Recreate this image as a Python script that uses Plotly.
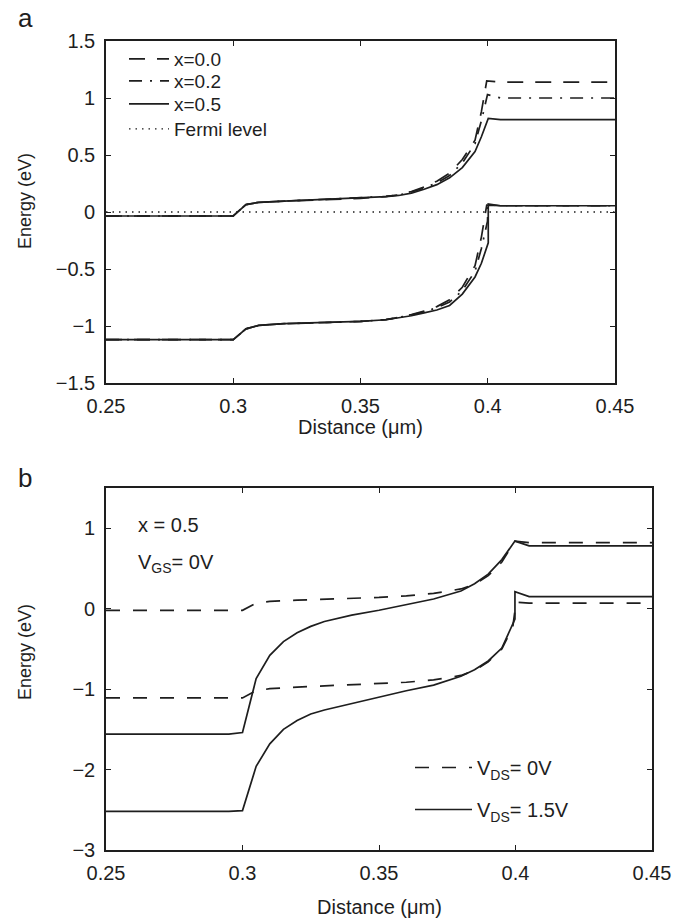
import plotly.graph_objects as go

# ---------------- data : panel a ----------------
# conduction / valence band edges for three Al fractions
xa_c_00 = [0.25, 0.30, 0.305, 0.31, 0.32, 0.33, 0.34, 0.35, 0.36, 0.365, 0.37, 0.375, 0.38, 0.385, 0.39, 0.395, 0.3975, 0.3996, 0.405, 0.45]
ea_c_00 = [-0.035, -0.035, 0.065, 0.085, 0.095, 0.105, 0.11, 0.12, 0.137, 0.15, 0.18, 0.22, 0.27, 0.34, 0.46, 0.63, 0.88, 1.15, 1.14, 1.14]
xa_v_00 = [0.25, 0.30, 0.305, 0.31, 0.32, 0.33, 0.34, 0.35, 0.36, 0.365, 0.37, 0.375, 0.38, 0.385, 0.39, 0.395, 0.3975, 0.3996, 0.405, 0.45]
ea_v_00 = [-1.12, -1.12, -1.025, -0.995, -0.98, -0.975, -0.97, -0.96, -0.943, -0.925, -0.90, -0.87, -0.83, -0.77, -0.66, -0.47, -0.22, 0.06, 0.055, 0.055]

xa_c_02 = [0.25, 0.30, 0.305, 0.31, 0.32, 0.33, 0.34, 0.35, 0.36, 0.365, 0.37, 0.375, 0.38, 0.385, 0.39, 0.395, 0.3975, 0.3999, 0.405, 0.45]
ea_c_02 = [-0.035, -0.035, 0.065, 0.085, 0.095, 0.105, 0.11, 0.12, 0.136, 0.148, 0.175, 0.21, 0.255, 0.32, 0.43, 0.60, 0.80, 1.03, 1.0, 1.0]
xa_v_02 = [0.25, 0.30, 0.305, 0.31, 0.32, 0.33, 0.34, 0.35, 0.36, 0.365, 0.37, 0.375, 0.38, 0.385, 0.39, 0.395, 0.3975, 0.3999, 0.4001, 0.405, 0.45]
ea_v_02 = [-1.12, -1.12, -1.025, -0.995, -0.98, -0.975, -0.97, -0.96, -0.944, -0.927, -0.905, -0.875, -0.84, -0.79, -0.69, -0.52, -0.32, -0.08, 0.06, 0.055, 0.055]

xa_c_05 = [0.25, 0.30, 0.305, 0.31, 0.32, 0.33, 0.34, 0.35, 0.36, 0.365, 0.37, 0.375, 0.38, 0.385, 0.39, 0.395, 0.3975, 0.4002, 0.405, 0.45]
ea_c_05 = [-0.035, -0.035, 0.065, 0.085, 0.095, 0.105, 0.11, 0.12, 0.135, 0.145, 0.165, 0.20, 0.24, 0.30, 0.39, 0.53, 0.66, 0.82, 0.81, 0.81]
xa_v_05 = [0.25, 0.30, 0.305, 0.31, 0.32, 0.33, 0.34, 0.35, 0.36, 0.365, 0.37, 0.375, 0.38, 0.385, 0.39, 0.395, 0.3975, 0.4002, 0.4002, 0.405, 0.45]
ea_v_05 = [-1.12, -1.12, -1.025, -0.995, -0.98, -0.975, -0.97, -0.96, -0.945, -0.93, -0.91, -0.885, -0.86, -0.82, -0.72, -0.57, -0.45, -0.27, 0.07, 0.055, 0.055]

fermi_x = [0.25, 0.45]
fermi_y = [0.0, 0.0]

labels_a = ["x=0.0", "x=0.2", "x=0.5", "Fermi level"]

# ---------------- data : panel b ----------------
xb_c_0 = [0.25, 0.30, 0.305, 0.31, 0.32, 0.33, 0.34, 0.35, 0.36, 0.37, 0.38, 0.385, 0.39, 0.395, 0.3998, 0.405, 0.45]
eb_c_0 = [-0.02, -0.02, 0.07, 0.09, 0.105, 0.115, 0.125, 0.14, 0.16, 0.19, 0.245, 0.30, 0.41, 0.58, 0.84, 0.82, 0.82]
xb_v_0 = [0.25, 0.30, 0.305, 0.31, 0.32, 0.33, 0.34, 0.35, 0.36, 0.37, 0.38, 0.385, 0.39, 0.395, 0.399, 0.4002, 0.405, 0.45]
eb_v_0 = [-1.11, -1.11, -1.02, -0.995, -0.975, -0.96, -0.95, -0.935, -0.915, -0.885, -0.83, -0.77, -0.66, -0.50, -0.23, 0.08, 0.07, 0.07]

xb_c_15 = [0.25, 0.295, 0.30, 0.305, 0.31, 0.315, 0.32, 0.325, 0.33, 0.34, 0.35, 0.36, 0.37, 0.38, 0.385, 0.39, 0.395, 0.3998, 0.405, 0.45]
eb_c_15 = [-1.56, -1.56, -1.54, -0.87, -0.58, -0.41, -0.30, -0.22, -0.16, -0.08, -0.02, 0.05, 0.12, 0.22, 0.31, 0.43, 0.61, 0.84, 0.78, 0.78]
xb_v_15 = [0.25, 0.295, 0.30, 0.305, 0.31, 0.315, 0.32, 0.325, 0.33, 0.34, 0.35, 0.36, 0.37, 0.38, 0.385, 0.39, 0.395, 0.3998, 0.3998, 0.405, 0.45]
eb_v_15 = [-2.52, -2.52, -2.51, -1.96, -1.68, -1.50, -1.39, -1.31, -1.26, -1.18, -1.10, -1.02, -0.95, -0.84, -0.76, -0.65, -0.49, -0.13, 0.21, 0.15, 0.15]

labels_b = ["V<sub>DS</sub>= 0V", "V<sub>DS</sub>= 1.5V"]

# ---------------- figure ----------------
W, H = 689, 919
INK = "#1e1e1e"
FONT = "Liberation Sans, Arial, Helvetica, sans-serif"
LW = 1.7


def px(v):
    return v / W


def py(v):
    return 1 - v / H


def join(xc, yc, xv, yv):
    return list(xc) + [None] + list(xv), list(yc) + [None] + list(yv)


fig = go.Figure()

dash_a = "16px,12px"
dashdot_a = "13px,8px,2px,8px"
dot_a = "1.5px,5px"

for (xc, yc, xv, yv), name, dash, lg in [
    ((xa_c_00, ea_c_00, xa_v_00, ea_v_00), labels_a[0], dash_a, "legend"),
    ((xa_c_02, ea_c_02, xa_v_02, ea_v_02), labels_a[1], dashdot_a, "legend2"),
    ((xa_c_05, ea_c_05, xa_v_05, ea_v_05), labels_a[2], "solid", "legend3"),
]:
    X, Y = join(xc, yc, xv, yv)
    fig.add_trace(go.Scatter(x=X, y=Y, mode="lines", name=name,
                             line=dict(color=INK, width=LW, dash=dash),
                             xaxis="x", yaxis="y", legend=lg))

fig.add_trace(go.Scatter(x=fermi_x, y=fermi_y, mode="lines", name=labels_a[3],
                         line=dict(color=INK, width=1.4, dash=dot_a),
                         xaxis="x", yaxis="y", legend="legend4"))

dash_b = "14px,13px"
X, Y = join(xb_c_0, eb_c_0, xb_v_0, eb_v_0)
fig.add_trace(go.Scatter(x=X, y=Y, mode="lines", name=labels_b[0],
                         line=dict(color=INK, width=LW, dash=dash_b),
                         xaxis="x2", yaxis="y2", legend="legend5"))
X, Y = join(xb_c_15, eb_c_15, xb_v_15, eb_v_15)
fig.add_trace(go.Scatter(x=X, y=Y, mode="lines", name=labels_b[1],
                         line=dict(color=INK, width=LW, dash="solid"),
                         xaxis="x2", yaxis="y2", legend="legend6"))

axis_common = dict(
    showline=True, linecolor=INK, linewidth=1.6, mirror="ticks",
    ticks="inside", ticklen=5, tickwidth=1.2, tickcolor=INK,
    showgrid=False, zeroline=False, automargin=False,
    tickfont=dict(family=FONT, size=20, color=INK),
)


def leg(left, top, width, size):
    return dict(x=px(left), y=py(top), xanchor="left", yanchor="top",
                bgcolor="rgba(0,0,0,0)", borderwidth=0, itemwidth=width,
                font=dict(family=FONT, size=size, color=INK))


fig.update_layout(
    width=W, height=H,
    margin=dict(l=0, r=0, t=0, b=0),
    paper_bgcolor="white", plot_bgcolor="white",
    font=dict(family=FONT, size=20, color=INK),
    xaxis=dict(domain=[px(106), px(615)], range=[0.25, 0.45], tick0=0.25, dtick=0.05,
               anchor="y", ticklabelstandoff=4, **axis_common),
    yaxis=dict(domain=[py(383), py(41)], range=[-1.5, 1.5], tick0=0, dtick=0.5,
               anchor="x", ticklabelstandoff=5, **axis_common),
    xaxis2=dict(domain=[px(106), px(652)], range=[0.25, 0.45], tick0=0.25, dtick=0.05,
                anchor="y2", ticklabelstandoff=4, **axis_common),
    yaxis2=dict(domain=[py(850), py(488)], range=[-3, 1.5], tick0=0, dtick=1,
                anchor="x2", ticklabelstandoff=5, **axis_common),
    legend=leg(124, 40, 40, 19),
    legend2=leg(124, 62, 40, 19),
    legend3=leg(124, 85, 40, 19),
    legend4=leg(124, 110, 40, 19),
    legend5=leg(410, 748, 57, 20),
    legend6=leg(410, 790, 57, 20),
    showlegend=True,
)

ann = []
ann.append(dict(text="a", x=px(16), y=py(18), xref="paper", yref="paper",
                xanchor="left", yanchor="middle", showarrow=False,
                font=dict(family=FONT, size=26, color=INK)))
ann.append(dict(text="b", x=px(16), y=py(478), xref="paper", yref="paper",
                xanchor="left", yanchor="middle", showarrow=False,
                font=dict(family=FONT, size=26, color=INK)))
for yc in (201, 652):
    ann.append(dict(text="Energy (eV)", x=px(25), y=py(yc), xref="paper", yref="paper",
                    xanchor="center", yanchor="middle", textangle=-90, showarrow=False,
                    font=dict(family=FONT, size=18, color=INK)))
ann.append(dict(text="Distance (\u03bcm)", x=px(360), y=py(427), xref="paper", yref="paper",
                xanchor="center", yanchor="middle", showarrow=False,
                font=dict(family=FONT, size=20, color=INK)))
ann.append(dict(text="Distance (\u03bcm)", x=px(379), y=py(907), xref="paper", yref="paper",
                xanchor="center", yanchor="middle", showarrow=False,
                font=dict(family=FONT, size=20, color=INK)))
ann.append(dict(text="x = 0.5", x=px(136), y=py(525), xref="paper", yref="paper",
                xanchor="left", yanchor="middle", showarrow=False,
                font=dict(family=FONT, size=20, color=INK)))
ann.append(dict(text="V<sub>GS</sub>= 0V", x=px(136), y=py(563), xref="paper", yref="paper",
                xanchor="left", yanchor="middle", showarrow=False,
                font=dict(family=FONT, size=20, color=INK)))
fig.update_layout(annotations=ann)

fig.write_html("out.html")
